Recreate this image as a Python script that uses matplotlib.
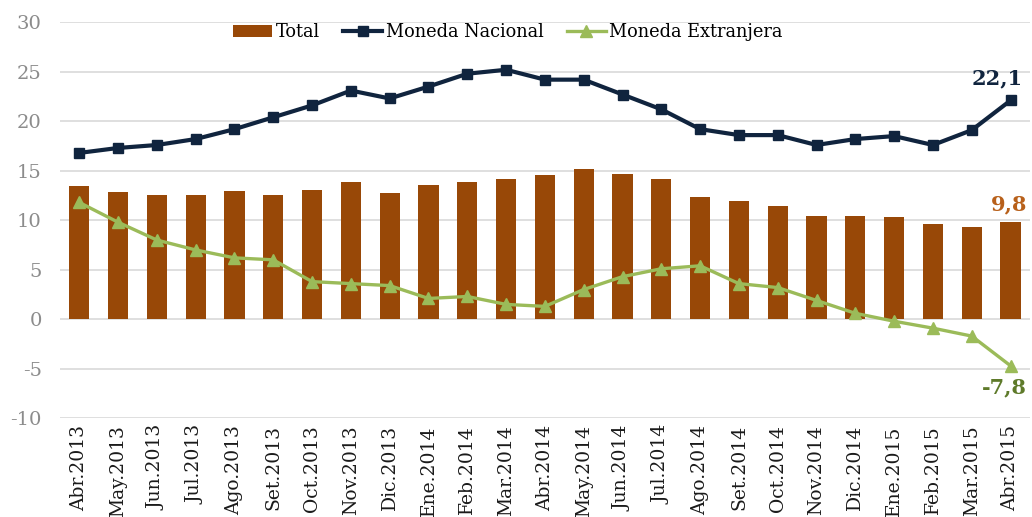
import matplotlib
matplotlib.use("Agg")
import matplotlib.pyplot as plt
import numpy as np

plt.rcParams['axes.unicode_minus'] = False

categories = ["Abr.2013", "May.2013", "Jun.2013", "Jul.2013", "Ago.2013", "Set.2013",
              "Oct.2013", "Nov.2013", "Dic.2013", "Ene.2014", "Feb.2014", "Mar.2014",
              "Abr.2014", "May.2014", "Jun.2014", "Jul.2014", "Ago.2014", "Set.2014",
              "Oct.2014", "Nov.2014", "Dic.2014", "Ene.2015", "Feb.2015", "Mar.2015",
              "Abr.2015"]
total = [13.5, 12.9, 12.6, 12.5, 13.0, 12.5, 13.1, 13.9, 12.8, 13.6, 13.9, 14.2,
         14.6, 15.2, 14.7, 14.2, 12.3, 11.9, 11.4, 10.4, 10.4, 10.3, 9.6, 9.3, 9.8]
moneda_nacional = [16.8, 17.3, 17.6, 18.2, 19.2, 20.4, 21.6, 23.1, 22.3, 23.5, 24.8, 25.2,
                   24.2, 24.2, 22.7, 21.2, 19.2, 18.6, 18.6, 17.6, 18.2, 18.5, 17.6, 19.1, 22.1]
moneda_extranjera = [11.8, 9.8, 8.0, 7.0, 6.2, 6.0, 3.8, 3.6, 3.4, 2.1, 2.3, 1.5,
                     1.3, 3.0, 4.3, 5.1, 5.4, 3.6, 3.2, 1.9, 0.6, -0.2, -0.9, -1.7, -4.7]
label_total = "9,8"
label_mn = "22,1"
label_me = "-7,8"
yticks = [-10, -5, 0, 5, 10, 15, 20, 25, 30]

c_bar = "#984807"
c_mn = "#10243E"
c_me = "#9BBB59"
c_me_lbl = "#5E7A2A"

fig = plt.figure(figsize=(10.32, 5.17), dpi=100)
ax = fig.add_axes([0.058, 0.191, 0.940, 0.766])

x = np.arange(len(categories))
bars = ax.bar(x, total, width=0.52, color=c_bar, label="Total", zorder=2)
l1, = ax.plot(x, moneda_nacional, color=c_mn, lw=3.0, marker="s", ms=7.5,
              label="Moneda Nacional", zorder=3)
l2, = ax.plot(x, moneda_extranjera, color=c_me, lw=2.4, marker="^", ms=9,
              label="Moneda Extranjera", zorder=4)

ax.set_xlim(-0.5, len(categories) - 0.5)
ax.set_ylim(-10, 30)
ax.set_yticks(yticks)
ax.set_yticklabels([str(v) for v in yticks], fontsize=14, color="#8C8C8C",
                   family="DejaVu Serif")
ax.set_xticks(x)
ax.set_xticklabels(categories, rotation=90, fontsize=13.5, color="#1A1A1A",
                   family="DejaVu Serif")
ax.tick_params(axis="y", length=0, pad=13)
ax.tick_params(axis="x", length=0, pad=5)
ax.grid(axis="y", color="#D9D9D9", lw=1.2, zorder=0)
for s in ax.spines.values():
    s.set_visible(False)

last = len(categories) - 1
ax.annotate(label_mn, (x[last], moneda_nacional[last]), xytext=(9, 9),
            textcoords="offset points", ha="right", va="bottom",
            fontsize=15, fontweight="bold", color=c_mn, family="DejaVu Serif")
ax.annotate(label_total, (x[last], total[last]), xytext=(12, 6),
            textcoords="offset points", ha="right", va="bottom",
            fontsize=15, fontweight="bold", color="#B8601A", family="DejaVu Serif")
ax.annotate(label_me, (x[last], moneda_extranjera[last]), xytext=(12, -8),
            textcoords="offset points", ha="right", va="top",
            fontsize=15, fontweight="bold", color=c_me_lbl, family="DejaVu Serif")

leg = ax.legend([bars, l1, l2], ["Total", "Moneda Nacional", "Moneda Extranjera"],
                loc="upper center", bbox_to_anchor=(0.462, 1.025), ncol=3, frameon=False,
                prop={"family": "DejaVu Serif", "size": 12.8}, handlelength=2.2,
                handletextpad=0.2, columnspacing=1.3, borderaxespad=0.2)

fig.savefig("out.png", dpi=100)
